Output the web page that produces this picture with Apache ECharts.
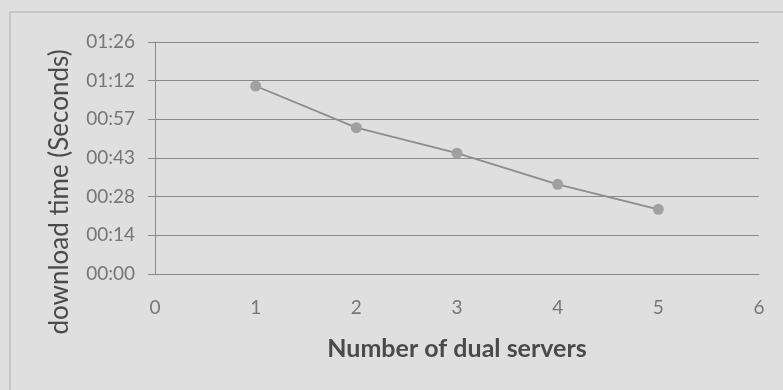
<!DOCTYPE html>
<html>
<head>
<meta charset="utf-8">
<script src="https://cdn.jsdelivr.net/npm/echarts@6/dist/echarts.min.js"></script>
<style>
  html, body { margin: 0; padding: 0; background: #dfdfdf; }
  #chart { width: 783px; height: 390px; }
</style>
</head>
<body>
<div id="chart"></div>
<script>
// Number of dual servers (x) and download time in seconds (y)
const servers = [1, 2, 3, 4, 5];
const downloadSeconds = [70, 54.5, 45, 33.4, 24.1];
// y ticks every 14.4 s, shown as mm:ss
const yTickValues = [0, 14.4, 28.8, 43.2, 57.6, 72, 86.4];
const yTickLabels = ['00:00', '00:14', '00:28', '00:43', '00:57', '01:12', '01:26'];

const chart = echarts.init(document.getElementById('chart'));
const fontFamily = 'Lato, "Open Sans", sans-serif';

chart.setOption({
  backgroundColor: '#dfdfdf',
  animation: false,
  graphic: [
    {
      type: 'rect',
      shape: { x: 10, y: 12, width: 800, height: 420 },
      style: { fill: 'none', stroke: '#bdbdbd', lineWidth: 1.5 },
      z: 0
    },
    {
      type: 'text',
      x: 60, y: 192,
      rotation: Math.PI / 2,
      style: {
        text: 'download time (Seconds)',
        fill: '#4a4a4a',
        font: '26px ' + fontFamily,
        align: 'center',
        verticalAlign: 'middle'
      }
    }
  ],
  grid: { left: 155, right: 24, top: 42, bottom: 116 },
  xAxis: {
    type: 'value',
    min: 0, max: 6, interval: 1,
    name: 'Number of dual servers',
    nameLocation: 'middle',
    nameGap: 62,
    nameTextStyle: { color: '#4a4a4a', fontSize: 25, fontWeight: 'bold', fontFamily },
    axisLine: { show: true, onZero: false, lineStyle: { color: '#8a8a8a', width: 1 } },
    axisTick: { show: false },
    splitLine: { show: false },
    axisLabel: { color: '#767676', fontSize: 19, margin: 24, fontFamily }
  },
  yAxis: {
    type: 'value',
    min: 0, max: 86.4, interval: 14.4,
    axisLine: { show: true, lineStyle: { color: '#8a8a8a', width: 1 } },
    axisTick: { show: true, length: 7, lineStyle: { color: '#8a8a8a' } },
    splitLine: { show: true, lineStyle: { color: '#8a8a8a', width: 1 } },
    axisLabel: {
      color: '#767676', fontSize: 19, margin: 20, fontFamily,
      formatter: function (v) {
        let best = 0;
        yTickValues.forEach(function (t, i) {
          if (Math.abs(t - v) < Math.abs(yTickValues[best] - v)) best = i;
        });
        return yTickLabels[best];
      }
    }
  },
  series: [{
    type: 'line',
    data: servers.map(function (s, i) { return [s, downloadSeconds[i]]; }),
    symbol: 'circle',
    symbolSize: 11,
    itemStyle: { color: '#a0a0a0' },
    lineStyle: { color: '#8c8c8c', width: 1.8 }
  }]
});
</script>
</body>
</html>
